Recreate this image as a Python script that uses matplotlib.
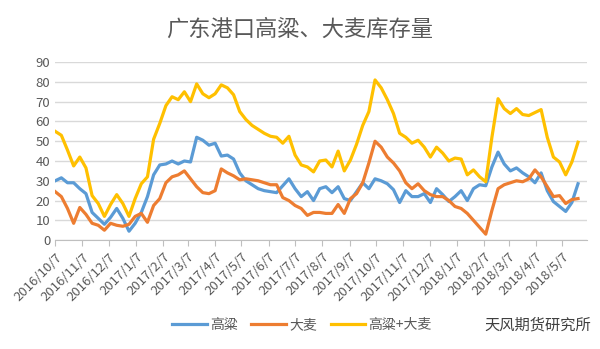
import matplotlib
matplotlib.use("Agg")
import matplotlib.pyplot as plt
import pandas as pd

plt.rcParams['font.family'] = ['Noto Sans CJK SC', 'DejaVu Sans']

# ─── Data (weekly, starting 2016/10/7) ────────────────────────────────────────
START = "2016-10-07"
sorghum = [30, 31.5, 29, 29, 26, 23.5, 14, 11, 8, 11.5, 16, 11, 4.5, 8.5, 14, 22,
           33, 38, 38.5, 40, 38.5, 40, 39.5, 52, 50.5, 48, 49, 42.5, 43, 41, 34, 30,
           28, 26, 25, 24.5, 24, 27.5, 31, 26, 22, 24.5, 20, 26, 27, 24, 27, 21,
           20, 24.5, 29, 26, 31, 30, 28.5, 25.5, 19, 25, 22, 22, 23.5, 19, 26, 23,
           19.5, 22, 25, 20, 26, 28, 27.5, 37, 44.5, 38.5, 35, 36.5, 34, 32, 29, 34,
           25, 19.5, 17, 14.5, 19, 28.5]
barley = [24.5, 22, 16, 8.5, 16.5, 13, 8.5, 7.5, 5, 8.5, 7.5, 7, 8, 12, 13.5, 9,
          17.5, 21, 29, 32, 33, 35, 31, 27, 24, 23.5, 25, 36, 34, 32.5, 30.5, 31,
          30.5, 30, 29, 28, 28, 21.5, 20, 17.5, 16, 12.5, 14, 14, 13.5, 13.5, 18, 13.5,
          21, 23.5, 29, 39, 50, 47, 42, 39, 35, 29, 26, 28.5, 25, 23, 22, 22,
          20, 17, 16, 13.5, 10, 6.5, 3, 15, 26, 28, 29, 30, 29.5, 31, 35.5, 32,
          27, 22, 22.5, 18.5, 20.5, 21]
total = [55, 53, 45.5, 37.5, 42, 36.5, 22.5, 18.5, 12, 18, 23, 18.5, 12, 21, 28.5, 32,
         51, 59, 68, 72.5, 71, 75, 70, 79, 74, 72, 74, 78.5, 77, 73.5, 65, 61,
         58, 56, 54, 52.5, 52, 49, 52.5, 43, 38, 37, 34.5, 40, 40.5, 37, 45, 35,
         40.5, 48.5, 58, 65, 81, 77, 71, 64, 54, 52, 49, 50.5, 47, 42, 47, 44,
         40, 41.5, 41, 33, 35.5, 32, 29.5, 52, 71.5, 66.5, 64, 66.5, 63.5, 63, 64.5, 66,
         52, 42, 39.5, 33, 39.5, 49.5]
series_names = ["高粱", "大麦", "高粱+大麦"]
colors = ["#5B9BD5", "#ED7D31", "#FFC000"]

dates = pd.date_range(START, periods=len(sorghum), freq="7D")
tick_dates = pd.date_range("2016-10-01", "2018-05-01", freq="MS") + pd.Timedelta(days=6)
tick_labels = [f"{d.year}/{d.month}/{d.day}" for d in tick_dates]

# ─── Plot ─────────────────────────────────────────────────────────────────────
fig = plt.figure(figsize=(6, 3.49), dpi=100)
ax = fig.add_axes([0.092, 0.312, 0.886, 0.51])

for vals, name, c in zip([sorghum, barley, total], series_names, colors):
    ax.plot(dates, vals, color=c, lw=2.3, label=name, solid_joinstyle="round")

ax.set_ylim(0, 90)
ax.set_yticks(range(0, 91, 10))
ax.set_xlim(pd.Timestamp("2016-10-07"), pd.Timestamp("2018-06-04"))
ax.set_xticks(tick_dates)
ax.set_xticklabels(tick_labels, rotation=45, ha="right", rotation_mode="anchor")
ax.tick_params(axis="x", colors="#595959", labelsize=9.5, length=4, color="#bfbfbf")
ax.tick_params(axis="y", colors="#595959", labelsize=9.5, length=0)
ax.grid(axis="y", color="#d9d9d9", lw=1)
ax.set_axisbelow(True)
for s in ["left", "right", "top"]:
    ax.spines[s].set_visible(False)
ax.spines["bottom"].set_color("#bfbfbf")

fig.suptitle("广东港口高粱、大麦库存量", y=0.917, va="center", fontsize=16, color="#595959")
fig.legend(loc="center", bbox_to_anchor=(0.503, 0.068), ncol=3, frameon=False,
           fontsize=10, handlelength=2.5, columnspacing=1.0, handletextpad=0.2,
           labelcolor="#595959")
fig.text(0.985, 0.068, "天风期货研究所", ha="right", va="center", fontsize=11,
         color="#404040")

fig.savefig("out.png", dpi=100)
